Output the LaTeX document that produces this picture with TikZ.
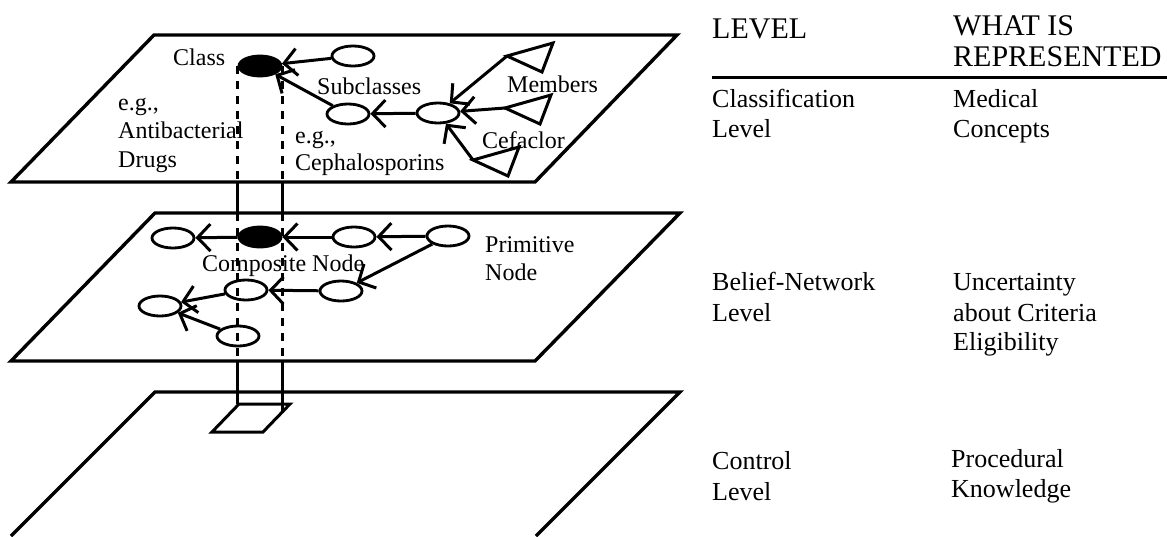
\documentclass[tikz,border=0pt]{standalone}
\usepackage{fontspec}
\setmainfont{Liberation Serif}
\usetikzlibrary{arrows.meta,shapes.geometric,positioning,calc}

\begin{document}
\begin{tikzpicture}[x=1pt,y=-1pt,
  plane/.style={line width=3.4pt,line join=miter},
  bnode/.style={ellipse,draw,line width=2.8pt,minimum width=42pt,minimum height=20pt,inner sep=0pt},
  cnode/.style={bnode,fill=black},
  link/.style={line width=3pt,-{Straight Barb[length=13pt,width=27pt]}},
  memb/.style={line width=3pt,line join=miter},
  guide/.style={line width=2.6pt,dash pattern=on 8pt off 7pt},
  tie/.style={line width=2.6pt},
  lbl/.style={font=\fontsize{24}{28}\selectfont,inner sep=0pt,anchor=base west},
  col/.style={font=\fontsize{26}{30}\selectfont,inner sep=0pt,anchor=base west},
  head/.style={font=\fontsize{30}{31}\selectfont,inner sep=0pt,anchor=base west}]
\useasboundingbox (0,0) rectangle (1167,536);

% Planes
\coordinate (tp) at (11,182);
\coordinate (mt) at (155,213);
\coordinate (mb) at (11,361);
\draw[plane] (11,182) -- (154,35) -- (677,35) -- (535,182) -- cycle;
\draw[plane] (11,361) -- (155,213) -- (680,213) -- (535,361) -- cycle;
\draw[plane] (11,536) -- (155,392) -- (680,392) -- (536,536);

% Classification level
\node[cnode] (cls) at (260,66) {};
\node[bnode] (sib) at (353,56) {};
\node[bnode] (sub) at (348,114) {};
\node[bnode] (mem) at (438,113) {};
\coordinate (m1) at (507,56);
\coordinate (m2) at (505,108);
\coordinate (m3) at (473,160);
\foreach \m in {m1,m2,m3}
  \draw[memb] (\m) -- ++(46,-13) -- ++(-11,29) -- cycle;
\draw[link] (sib) -- (cls);
\draw[link] (sub) -- (cls);
\draw[link] (mem) -- (sub);
\foreach \m in {m1,m2,m3}
  \draw[link] (\m) -- (mem);

\node[lbl] (clslbl) at (173,65) {Class};
\node[lbl] (eg1) at (118,110) {e.g.,};
\node[lbl] (anti) at (118,138) {Antibacterial};
\node[lbl] (drugs) at (118,167) {Drugs};
\node[lbl] (sublbl) at (317,94) {Subclasses};
\node[lbl] (eg2) at (295,143) {e.g.,};
\node[lbl] (ceph) at (295,170) {Cephalosporins};
\node[lbl] (memlbl) at (507,92) {Members};
\node[lbl] (cefa) at (482,148) {Cefaclor};

% Belief-network level
\node[bnode] (pa) at (173,238) {};
\node[cnode] (comp) at (260,237) {};
\node[bnode] (pb) at (354,237) {};
\node[bnode] (prim) at (448,236) {};
\node[bnode] (pd) at (341,291) {};
\node[bnode] (pe) at (246,290) {};
\node[bnode] (pf) at (160,306) {};
\node[bnode] (pg) at (238,336) {};
\draw[link] (prim) -- (pb);
\draw[link] (pb) -- (comp);
\draw[link] (comp) -- (pa);
\draw[link] (prim) -- (pd);
\draw[link] (pd) -- (pe);
\draw[link] (pe) -- (pf);
\draw[link] (pg) -- (pf);

\node[lbl] (complbl) at (202,271) {Composite Node};
\node[lbl] (primlbl) at (485,252) {Primitive};
\node[lbl] (primlbl2) at (485,280) {Node};

% Control level and the ties between levels
\coordinate (box) at (239,404);
\coordinate (boxr) at (281,413);
\draw[memb] (box) -- ++(51,0) -- ++(-27,28) -- ++(-51,0) -- cycle;
\draw[guide] (cls.west) -- (cls.west |- tp);
\draw[guide] (cls.east) -- (cls.east |- tp);
\draw[tie] (cls.west |- tp) -- (cls.west |- mt);
\draw[tie] (cls.east |- tp) -- (cls.east |- mt);
\draw[guide] (comp.west |- mt) -- (comp.west |- mb);
\draw[guide] (comp.east |- mt) -- (comp.east |- mb);
\draw[tie] (comp.west |- mb) -- (comp.west |- box);
\draw[tie] (comp.east |- mb) -- (comp.east |- boxr);

% Table of levels
\node[head] (lvlh) at (712,38) {LEVEL};
\node[head,align=left] (whath) at (953,66) {WHAT IS\\REPRESENTED};
\draw[line width=3pt] (712,77) -- (1167,77);
\node[col] (c1) at (712,107) {Classification};
\node[col] (c2) at (712,137) {Level};
\node[col] (r1) at (953,107) {Medical};
\node[col] (r2) at (953,137) {Concepts};
\node[col] (c3) at (712,290) {Belief-Network};
\node[col] (c4) at (712,321) {Level};
\node[col] (r3) at (953,290) {Uncertainty};
\node[col] (r4) at (953,321) {about Criteria};
\node[col] (r5) at (953,350) {Eligibility};
\node[col] (c5) at (712,469) {Control};
\node[col] (c6) at (712,500) {Level};
\node[col] (r6) at (951,467) {Procedural};
\node[col] (r7) at (951,497) {Knowledge};
\end{tikzpicture}
\end{document}
